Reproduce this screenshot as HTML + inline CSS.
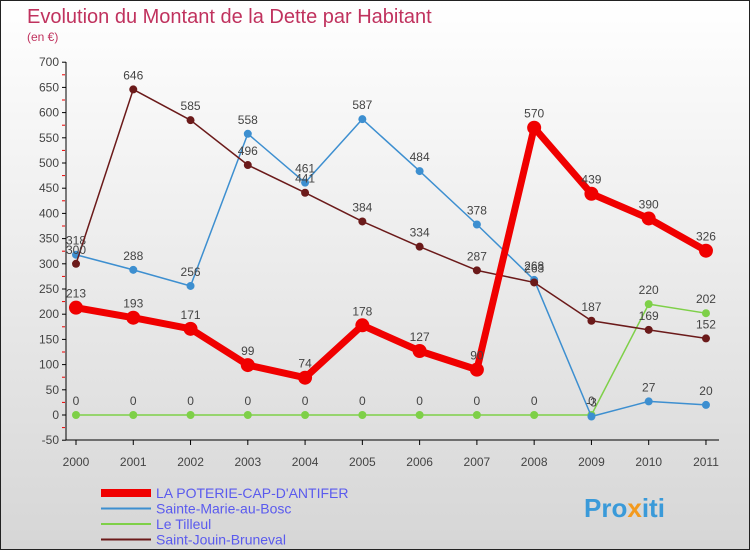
<!DOCTYPE html>
<html><head><meta charset="utf-8"><style>
body{margin:0}
#c{width:750px;height:550px;position:relative;box-sizing:border-box;border:1px solid #222;background:linear-gradient(#ffffff,#d6d6d6);font-family:"Liberation Sans",sans-serif;overflow:hidden}
</style></head><body>
<div id="c">
<svg id="s" width="750" height="550" style="position:absolute;left:0;top:0">
<text x="26" y="22" font-size="20" fill="#c0325e">Evolution du Montant de la Dette par Habitant</text>
<text x="26" y="40" font-size="12" fill="#c0325e">(en €)</text>
<g id="ax"></g><g id="series"></g><g id="legend"></g>
<text x="583" y="516" font-size="26" font-weight="bold" fill="#3a9ad9">Pro<tspan fill="#f39a1e">x</tspan>iti</text>
</svg>
</div>
<script>
const years=["2000","2001","2002","2003","2004","2005","2006","2007","2008","2009","2010","2011"];
const yTicks=[700,650,600,550,500,450,400,350,300,250,200,150,100,50,0,-50];
const poterie=[213,193,171,99,74,178,127,90,570,439,390,326];
const sainteMarie=[318,288,256,558,461,587,484,378,268,-3,27,20];
const tilleul=[0,0,0,0,0,0,0,0,0,0,220,202];
const saintJouin=[300,646,585,496,441,384,334,287,263,187,169,152];
const NS="http://www.w3.org/2000/svg";
function X(i){return 75+i*57.27;}
function Y(v){return 414-v*0.504;}
function mk(t,a,p){const e=document.createElementNS(NS,t);for(const k in a)e.setAttribute(k,a[k]);(p||document.getElementById('ax')).appendChild(e);return e;}
let l=mk('line',{x1:65,y1:61,x2:65,y2:439,stroke:'#000'});


l=mk('line',{x1:65,y1:439,x2:718,y2:439,stroke:'#000'});


yTicks.forEach(v=>{
 mk('line',{x1:61,y1:Y(v),x2:65,y2:Y(v),stroke:'#000'});
 mk('line',{x1:61,y1:Y(v-25),x2:64,y2:Y(v-25),stroke:v-25>=-50?'#e00':'none'});
 const t=mk('text',{x:58,y:Y(v)+4,'font-size':12,fill:'#444','text-anchor':'end'});
 t.textContent=v;
 
 
});
years.forEach((y,i)=>{
 mk('line',{x1:X(i),y1:439,x2:X(i),y2:444,stroke:'#000'});
 const t=mk('text',{x:X(i),y:465,'font-size':12,fill:'#444','text-anchor':'middle'});
 t.textContent=y;
 
 
});
const sg=document.getElementById('series');
function series(d,col,w,r,name){
 const g=mk('g',{},sg);
 
 
 mk('polyline',{points:d.map((v,i)=>X(i)+','+Y(v)).join(' '),fill:'none',stroke:col,'stroke-width':w,'stroke-linejoin':'round'},g);
 d.forEach((v,i)=>{
  const c=mk('circle',{cx:X(i),cy:Y(v),r:r,fill:col},g);
  
  
  const t=mk('text',{x:X(i),y:Y(v)-10,'font-size':12,fill:'#444','text-anchor':'middle'},g);
  t.textContent=v;
  
  
 });
}
series(tilleul,'#7ed048',1.5,4,'series-le-tilleul');
series(sainteMarie,'#3d8fd0',1.5,4,'series-sainte-marie');
series(saintJouin,'#6b1a1a',1.5,4,'series-saint-jouin');
series(poterie,'#f00000',7,7,'series-la-poterie');
const lg=document.getElementById('legend');
[["LA POTERIE-CAP-D'ANTIFER",'#f00000',8],["Sainte-Marie-au-Bosc",'#3d8fd0',2],["Le Tilleul",'#7ed048',2],["Saint-Jouin-Bruneval",'#6b1a1a',2]].forEach((e,i)=>{
 const y=492+i*15.5;
 const g=mk('g',{},lg);
 
 
 mk('line',{x1:100,y1:y,x2:150,y2:y,stroke:e[1],'stroke-width':e[2]},g);
 const t=mk('text',{x:155,y:y+5,'font-size':14,fill:'#5a5aee'},g);
 t.textContent=e[0];
});
</script>
</body></html>
